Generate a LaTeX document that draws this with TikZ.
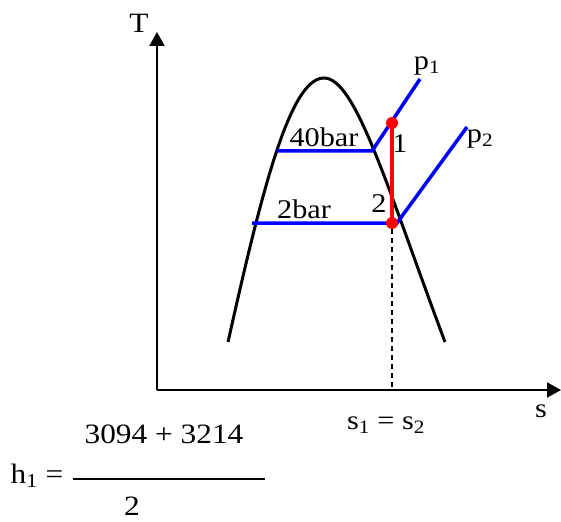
\documentclass[tikz,border=0pt]{standalone}
\usepackage{fontspec}
\setmainfont[FakeStretch=1.12]{Liberation Serif}
\usetikzlibrary{arrows.meta,calc}

\tikzset{
  axis/.style={line width=2pt,-{Triangle[length=14pt,width=15pt]}},
  dome/.style={line width=3pt},
  isobar/.style={line width=3.5pt,blue},
  process/.style={line width=3.5pt,red},
  dot/.style={circle,fill=red,inner sep=0pt,minimum size=12pt},
  lbl/.style={inner sep=0pt,font=\fontsize{27}{30}\selectfont},
  eqn/.style={inner sep=0pt,font=\fontsize{28}{32}\selectfont}
}

\begin{document}
\begin{tikzpicture}[x=1pt,y=-1pt]
  \useasboundingbox (0,0) rectangle (561,521);

  % axes
  \coordinate (O) at (157,390);
  \coordinate (Ttip) at (157,32);
  \coordinate (Stip) at (561,390);
  \draw[axis] (O) -- (Ttip);
  \draw[axis] (O) -- (Stip);
  \node[eqn] (T) at (139,23) {T};
  \node[lbl] (s) at (541,411) {s};

  % saturation dome
  \coordinate (dl) at (228,342);
  \coordinate (top) at (324,78);
  \coordinate (dr) at (445,342);
  \draw[dome] (dl) .. controls (262,190) and (290,78) .. (top)
    .. controls (356,78) and (388,190) .. (dr);

  % isobars
  \coordinate (a1) at (277,151);
  \coordinate (a2) at (372,151);
  \coordinate (a3) at (420,79);
  \coordinate (b1) at (252,223);
  \coordinate (b2) at (397,223);
  \coordinate (b3) at (467,127);
  \draw[isobar] (a1) -- (a2) -- (a3);
  \draw[isobar] (b1) -- (b2) -- (b3);

  % expansion 1-2
  \node[dot] (P1) at (392,123) {};
  \node[dot] (P2) at (392,223) {};
  \coordinate (Sx) at (392,390);
  \draw[line width=1.5pt,dash pattern=on 5pt off 4pt] (P2) -- (Sx);
  \draw[process] (P1.center) -- (P2.center);

  \node[lbl] (n40) at (324,137) {40bar};
  \node[lbl] (n2b) at (304,209) {2bar};
  \node[lbl] (l1) at (400,144) {1};
  \node[lbl] (l2) at (379,204) {2};
  \node[lbl] (p1) at (427,66) {p\textsubscript{1}};
  \node[lbl] (p2) at (480,139) {p\textsubscript{2}};
  \node[lbl] (s12) at (386,425) {s\textsubscript{1} = s\textsubscript{2}};

  % enthalpy
  \node[eqn] (h1) at (37,476) {h\textsubscript{1} =};
  \node[eqn] (num) at (164,434) {3094 + 3214};
  \node[eqn] (den) at (132,506) {2};
  \coordinate (f1) at (73,479);
  \coordinate (f2) at (265,479);
  \draw[line width=1.5pt] (f1) -- (f2);
\end{tikzpicture}
\end{document}
